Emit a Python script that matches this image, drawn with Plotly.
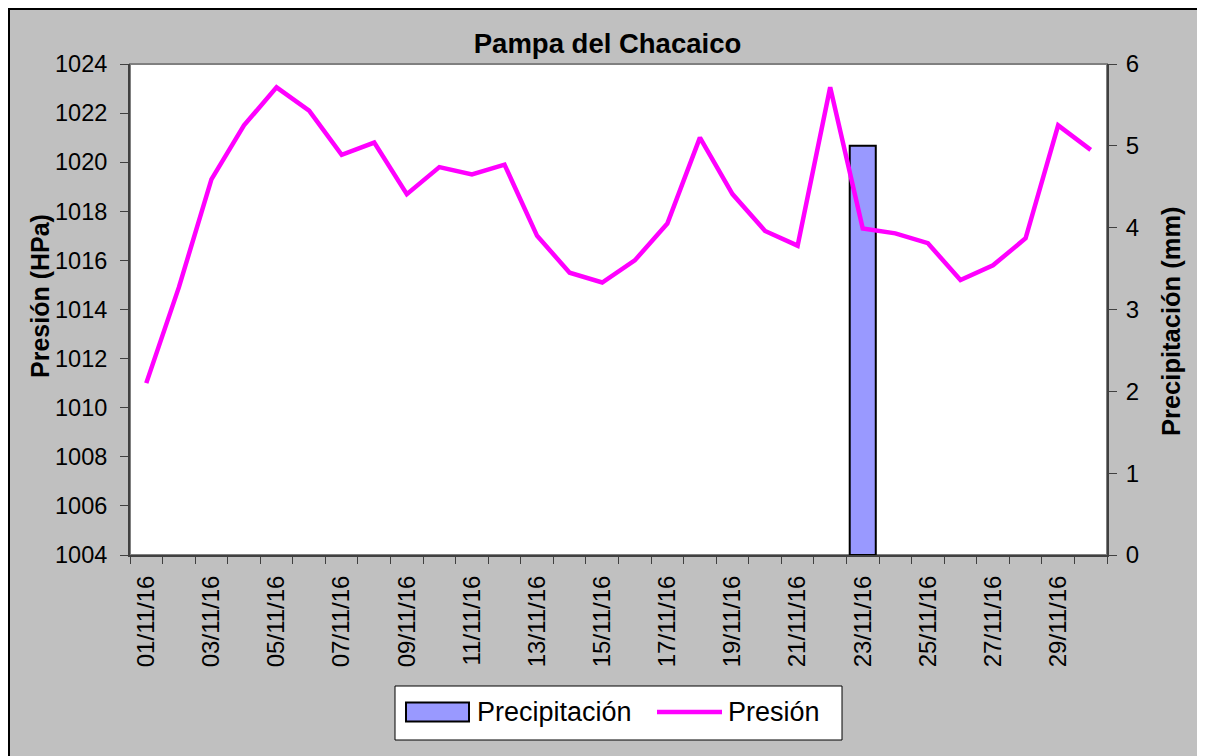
import pandas as pd
import plotly.graph_objects as go

# ---- data ----
dates = pd.date_range("2016-11-01", periods=30, freq="D")
presion = [1011.0, 1014.9, 1019.3, 1021.5, 1023.05, 1022.1, 1020.3, 1020.8, 1018.7, 1019.8,
           1019.5, 1019.9, 1017.0, 1015.5, 1015.1, 1016.0, 1017.5, 1021.0, 1018.7, 1017.2,
           1016.6, 1023.05, 1017.3, 1017.1, 1016.7, 1015.2, 1015.8, 1016.9, 1021.5, 1020.5]
precipitacion = [0, 0, 0, 0, 0, 0, 0, 0, 0, 0,
                 0, 0, 0, 0, 0, 0, 0, 0, 0, 0,
                 0, 0, 5, 0, 0, 0, 0, 0, 0, 0]

title_text = "Pampa del Chacaico"
left_title = "Presión (HPa)"
right_title = "Precipitación (mm)"
series_names = ["Precipitación", "Presión"]

DAY = 86400000
FONT = "Liberation Sans, Arial, sans-serif"
OFF = 8  # page body margin offset

L, R, T, B = 130 - OFF, 98 + OFF, 64 - OFF, 201 + OFF
PW, PH = 977, 491
BAR_COLOR = "#9999FF"
LINE_COLOR = "#FF00FF"


def px(xp):
    return (xp - 130) / PW


def py(yp):
    return (555 - yp) / PH


fig = go.Figure()
fig.add_trace(go.Bar(
    x=dates, y=[v if v > 0 else None for v in precipitacion],
    name=series_names[0], yaxis="y", width=0.8 * DAY, showlegend=False,
    marker=dict(color=BAR_COLOR, line=dict(color="black", width=2)),
))
fig.add_trace(go.Scatter(
    x=dates, y=presion, name=series_names[1], yaxis="y2", mode="lines", showlegend=False,
    line=dict(color=LINE_COLOR, width=4.5),
))

# legend drawn as decoration (Excel style)
legend_shapes = [
    dict(type="rect", xref="paper", yref="paper", x0=px(395), x1=px(842), y0=py(740), y1=py(686),
         line=dict(color="black", width=1), fillcolor="white", layer="above"),
    dict(type="rect", xref="paper", yref="paper", x0=px(406), x1=px(469), y0=py(721.5), y1=py(702.5),
         line=dict(color="black", width=2), fillcolor=BAR_COLOR, layer="above"),
    dict(type="line", xref="paper", yref="paper", x0=px(657), x1=px(722), y0=py(712), y1=py(712),
         line=dict(color=LINE_COLOR, width=4.5), layer="above"),
]
legend_texts = [
    dict(text=series_names[0], xref="paper", yref="paper", x=px(475), y=py(712),
         xanchor="left", yanchor="middle", showarrow=False, font=dict(size=27)),
    dict(text=series_names[1], xref="paper", yref="paper", x=px(726), y=py(712),
         xanchor="left", yanchor="middle", showarrow=False, font=dict(size=27)),
]

fig.update_layout(
    width=1205, height=756,
    margin=dict(l=L, r=R, t=T, b=B, autoexpand=False),
    paper_bgcolor="#C0C0C0", plot_bgcolor="white",
    font=dict(family=FONT, size=24, color="black"),
    title=dict(text="<b>" + title_text + "</b>", x=(607.5 - OFF) / 1205, xref="container",
               xanchor="center", y=1 - (43 - OFF) / 756, yref="container", yanchor="middle",
               font=dict(size=27.5, family=FONT)),
    showlegend=False,
    xaxis=dict(
        type="date", range=["2016-10-31 12:00", "2016-11-30 12:00"],
        tick0="2016-11-01", dtick=2 * DAY, tickformat="%d/%m/%y", tickangle=-90,
        ticks="", ticklabelstandoff=9, showgrid=False, zeroline=False,
        showline=True, linecolor="#404040", linewidth=2,
        minor=dict(ticks="outside", tick0="2016-10-31 12:00", dtick=DAY, ticklen=7,
                   tickcolor="#404040", tickwidth=1, showgrid=False),
        tickfont=dict(size=24),
    ),
    yaxis=dict(
        side="right", range=[0, 6], dtick=1, ticks="outside", ticklen=8,
        tickcolor="#404040", showgrid=False, zeroline=False,
        showline=True, linecolor="#404040", linewidth=2, ticklabelstandoff=4,
    ),
    yaxis2=dict(
        side="left", overlaying="y", range=[1004, 1024], dtick=2, ticks="outside",
        ticklen=8, tickcolor="#404040", showgrid=False, zeroline=False,
        showline=True, linecolor="#404040", linewidth=2, ticklabelstandoff=8,
        tickfont=dict(size=23.5),
    ),
    annotations=[
        dict(text="<b>" + left_title + "</b>", xref="paper", yref="paper",
             x=px(40), y=py(296), textangle=-90, showarrow=False,
             xanchor="center", yanchor="middle", font=dict(size=25)),
        dict(text="<b>" + right_title + "</b>", xref="paper", yref="paper",
             x=px(1171), y=py(321), textangle=-90, showarrow=False,
             xanchor="center", yanchor="middle", font=dict(size=25.5)),
    ] + legend_texts,
    shapes=[
        dict(type="rect", xref="paper", yref="paper", x0=0, x1=1, y0=0, y1=1,
             line=dict(color="#808080", width=2), layer="below"),
        dict(type="rect", xref="paper", yref="paper",
             x0=(-L + 1) / PW, x1=1.3, y0=-0.8, y1=(PH + T - 1) / PH,
             line=dict(color="black", width=2), fillcolor="rgba(0,0,0,0)", layer="above"),
    ] + legend_shapes,
)

fig.write_html("out.html")
